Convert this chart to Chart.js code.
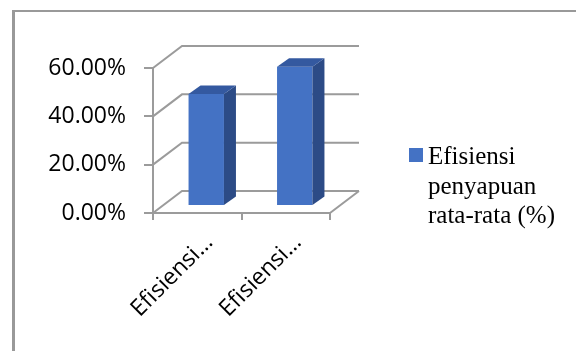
<!DOCTYPE html>
<html>
<head>
<meta charset="utf-8">
<script src="https://cdn.jsdelivr.net/npm/chart.js@4.4.1/dist/chart.umd.min.js"></script>
<style>
  body { margin: 0; background: #fff; }
</style>
</head>
<body>
<canvas id="chart" width="577" height="351"></canvas>
<script>
// data
var categories = ['Efisiensi…', 'Efisiensi…'];
var seriesName = 'Efisiensi penyapuan rata-rata (%)';
var legendLines = ['Efisiensi', 'penyapuan', 'rata-rata (%)'];
var values = [46.3, 57.6];
var yTicks = [0, 20, 40, 60];

var gray = '#9b9b9b';
// fake 3d offsets (px)
var wall = { dx: 29, dy: -22 };
var shift = { dx: 9, dy: -7 };
var side = { dx: 12, dy: -8.5 };

var box3d = {
  id: 'box3d',
  beforeDraw: function (chart) {
    var ctx = chart.ctx;
    ctx.save();
    ctx.fillStyle = '#ffffff';
    ctx.fillRect(0, 0, chart.width, chart.height);
    // frame of the chart object
    ctx.fillStyle = '#999999';
    ctx.fillRect(12, 10, chart.width - 13, 2);
    ctx.fillRect(12, 10, 3, chart.height - 10);
    ctx.restore();
  },
  beforeDatasetsDraw: function (chart) {
    var ctx = chart.ctx, y = chart.scales.y, a = chart.chartArea;
    ctx.save();
    ctx.strokeStyle = gray;
    ctx.lineWidth = 2;
    ctx.beginPath();
    yTicks.forEach(function (v) {
      var py = y.getPixelForValue(v);
      ctx.moveTo(a.left, py);
      ctx.lineTo(a.left + wall.dx, py + wall.dy);
      ctx.lineTo(a.right + wall.dx, py + wall.dy);
    });
    // right edge of the floor
    ctx.moveTo(a.right, a.bottom);
    ctx.lineTo(a.right + wall.dx, a.bottom + wall.dy);
    ctx.stroke();
    ctx.restore();
    // bars sit a bit inside the box
    ctx.save();
    ctx.translate(shift.dx, shift.dy);
  },
  afterDatasetsDraw: function (chart) {
    var ctx = chart.ctx;
    ctx.restore();
    var meta = chart.getDatasetMeta(0);
    meta.data.forEach(function (bar) {
      var p = bar.getProps(['x', 'y', 'base', 'width'], true);
      var l = p.x - p.width / 2 + shift.dx;
      var r = p.x + p.width / 2 + shift.dx;
      var t = p.y + shift.dy;
      var b = p.base + shift.dy;
      ctx.save();
      // side face
      ctx.fillStyle = '#2c4b86';
      ctx.beginPath();
      ctx.moveTo(r, t);
      ctx.lineTo(r + side.dx, t + side.dy);
      ctx.lineTo(r + side.dx, b + side.dy);
      ctx.lineTo(r, b);
      ctx.closePath();
      ctx.fill();
      // top face
      ctx.fillStyle = '#3459a0';
      ctx.beginPath();
      ctx.moveTo(l, t);
      ctx.lineTo(l + side.dx, t + side.dy);
      ctx.lineTo(r + side.dx, t + side.dy);
      ctx.lineTo(r, t);
      ctx.closePath();
      ctx.fill();
      ctx.restore();
    });
  },
  afterDraw: function (chart) {
    var ctx = chart.ctx;
    ctx.save();
    ctx.fillStyle = '#4472c4';
    ctx.fillRect(409, 148, 14, 14);
    ctx.fillStyle = '#000000';
    ctx.font = '25px "Liberation Serif"';
    ctx.textBaseline = 'alphabetic';
    legendLines.forEach(function (line, i) {
      ctx.fillText(line, 428, 164 + i * 29.5);
    });
    ctx.restore();
  }
};

var ctx = document.getElementById('chart').getContext('2d');
var chart = new Chart(ctx, {
  type: 'bar',
  data: {
    labels: categories,
    datasets: [{
      label: seriesName,
      data: values,
      backgroundColor: '#4472c4',
      borderWidth: 0,
      categoryPercentage: 1,
      barPercentage: 0.4,
      clip: false
    }]
  },
  options: {
    responsive: false,
    animation: false,
    layout: { padding: { top: 68, right: 247, left: 0, bottom: 0 } },
    plugins: { legend: { display: false }, tooltip: { enabled: false } },
    scales: {
      x: {
        grid: { display: true, drawOnChartArea: false, offset: true, tickLength: 7, color: gray, lineWidth: 2 },
        border: { display: true, color: gray, width: 2 },
        ticks: {
          minRotation: 45, maxRotation: 45, labelOffset: 12, padding: 9,
          color: '#000', font: { family: 'Open Sans', size: 23 }
        },
        afterFit: function (s) { s.height = 138; }
      },
      y: {
        min: 0, max: 60,
        ticks: {
          stepSize: 20, padding: 18, color: '#000',
          font: { family: 'Open Sans', size: 23 },
          callback: function (v) { return v.toFixed(2) + '%'; }
        },
        grid: { drawOnChartArea: false, tickLength: 9, color: gray, lineWidth: 2 },
        border: { display: true, color: gray, width: 2 },
        afterFit: function (s) { s.width = 153; }
      }
    }
  },
  plugins: [box3d]
});
</script>
</body>
</html>
